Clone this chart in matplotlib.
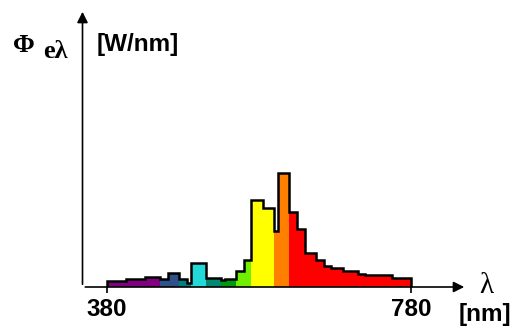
import numpy as np
import matplotlib.pyplot as plt

# bin edges in nm and spectral power (arbitrary units)
edges = [380, 405, 430, 450, 460, 475, 485, 490, 510, 530, 535, 550, 560, 570,
         585, 600, 605, 620, 630, 640, 655, 665, 675, 690, 710, 720, 755, 780]
power = [6, 8, 10, 8, 14, 8, 4, 24, 9, 7, 8, 16, 27, 87,
         79, 56, 114, 75, 58, 34, 27, 21, 19, 16, 13, 12, 9]
tick_nm = [380, 780]

# colour of each wavelength band (upper limit in nm, colour)
bands = [(450, '#800080'), (475, '#30508a'), (490, '#008080'), (510, '#22d8d8'),
         (530, '#008870'), (550, '#009a10'), (572, '#70f000'), (598, '#ffff00'),
         (625, '#ff8000'), (800, '#ff0000')]

def band_color(nm):
    for top, c in bands:
        if nm < top:
            return c
    return bands[-1][1]

edges = np.array(edges, dtype=float)
power = np.array(power, dtype=float)
widths = np.diff(edges)
centers = edges[:-1] + widths / 2

W, H = 516, 328
fig = plt.figure(figsize=(W / 100, H / 100), dpi=100)
ax = fig.add_axes([0, 0, 1, 1])
ax.axis('off')

# map: 380nm -> px 107, 780nm -> px 411; baseline at px 287 from top
k = (411 - 107) / 400.0
x0 = 380 - 107 / k
ax.set_xlim(x0, x0 + W / k)
ax.set_ylim(-(H - 287), 287)

def px(x):
    return x0 + x / k

def py(y):
    return 287 - y

ax.bar(edges[:-1], power, width=widths, align='edge',
       color=[band_color(c) for c in centers], linewidth=0)
ax.stairs(power, edges, baseline=0, color='k', lw=1.8)

# axes with arrows
ax.annotate('', xy=(px(82.5), py(9)), xytext=(px(82.5), 0),
            arrowprops=dict(arrowstyle='-|>', color='k', lw=1.2, mutation_scale=16))
ax.annotate('', xy=(px(467), 0), xytext=(px(82.5), 0),
            arrowprops=dict(arrowstyle='-|>', color='k', lw=1.2, mutation_scale=16))
ax.vlines(tick_nm, -6, 0, color='k', lw=1.2)

bold = dict(family='Liberation Sans', weight='bold', fontsize=17.5)
for t in tick_nm:
    ax.text(t, py(309), str(t), ha='center', va='center', **bold)
ax.text(px(485), py(315), '[nm]', ha='center', va='center', **bold)
ax.text(px(138), py(45), '[W/nm]', ha='center', va='center', **bold)

ax.text(px(24), py(45), '\u03a6', ha='center', va='center', fontsize=19,
        family='Liberation Serif', weight='bold')
ax.text(px(55), py(51), 'e\u03bb', ha='center', va='center', fontsize=19,
        family='Liberation Serif', weight='bold')
ax.text(px(486), py(286), '\u03bb', ha='center', va='center', fontsize=21,
        family='Liberation Serif')

fig.savefig('out.png', dpi=100)
